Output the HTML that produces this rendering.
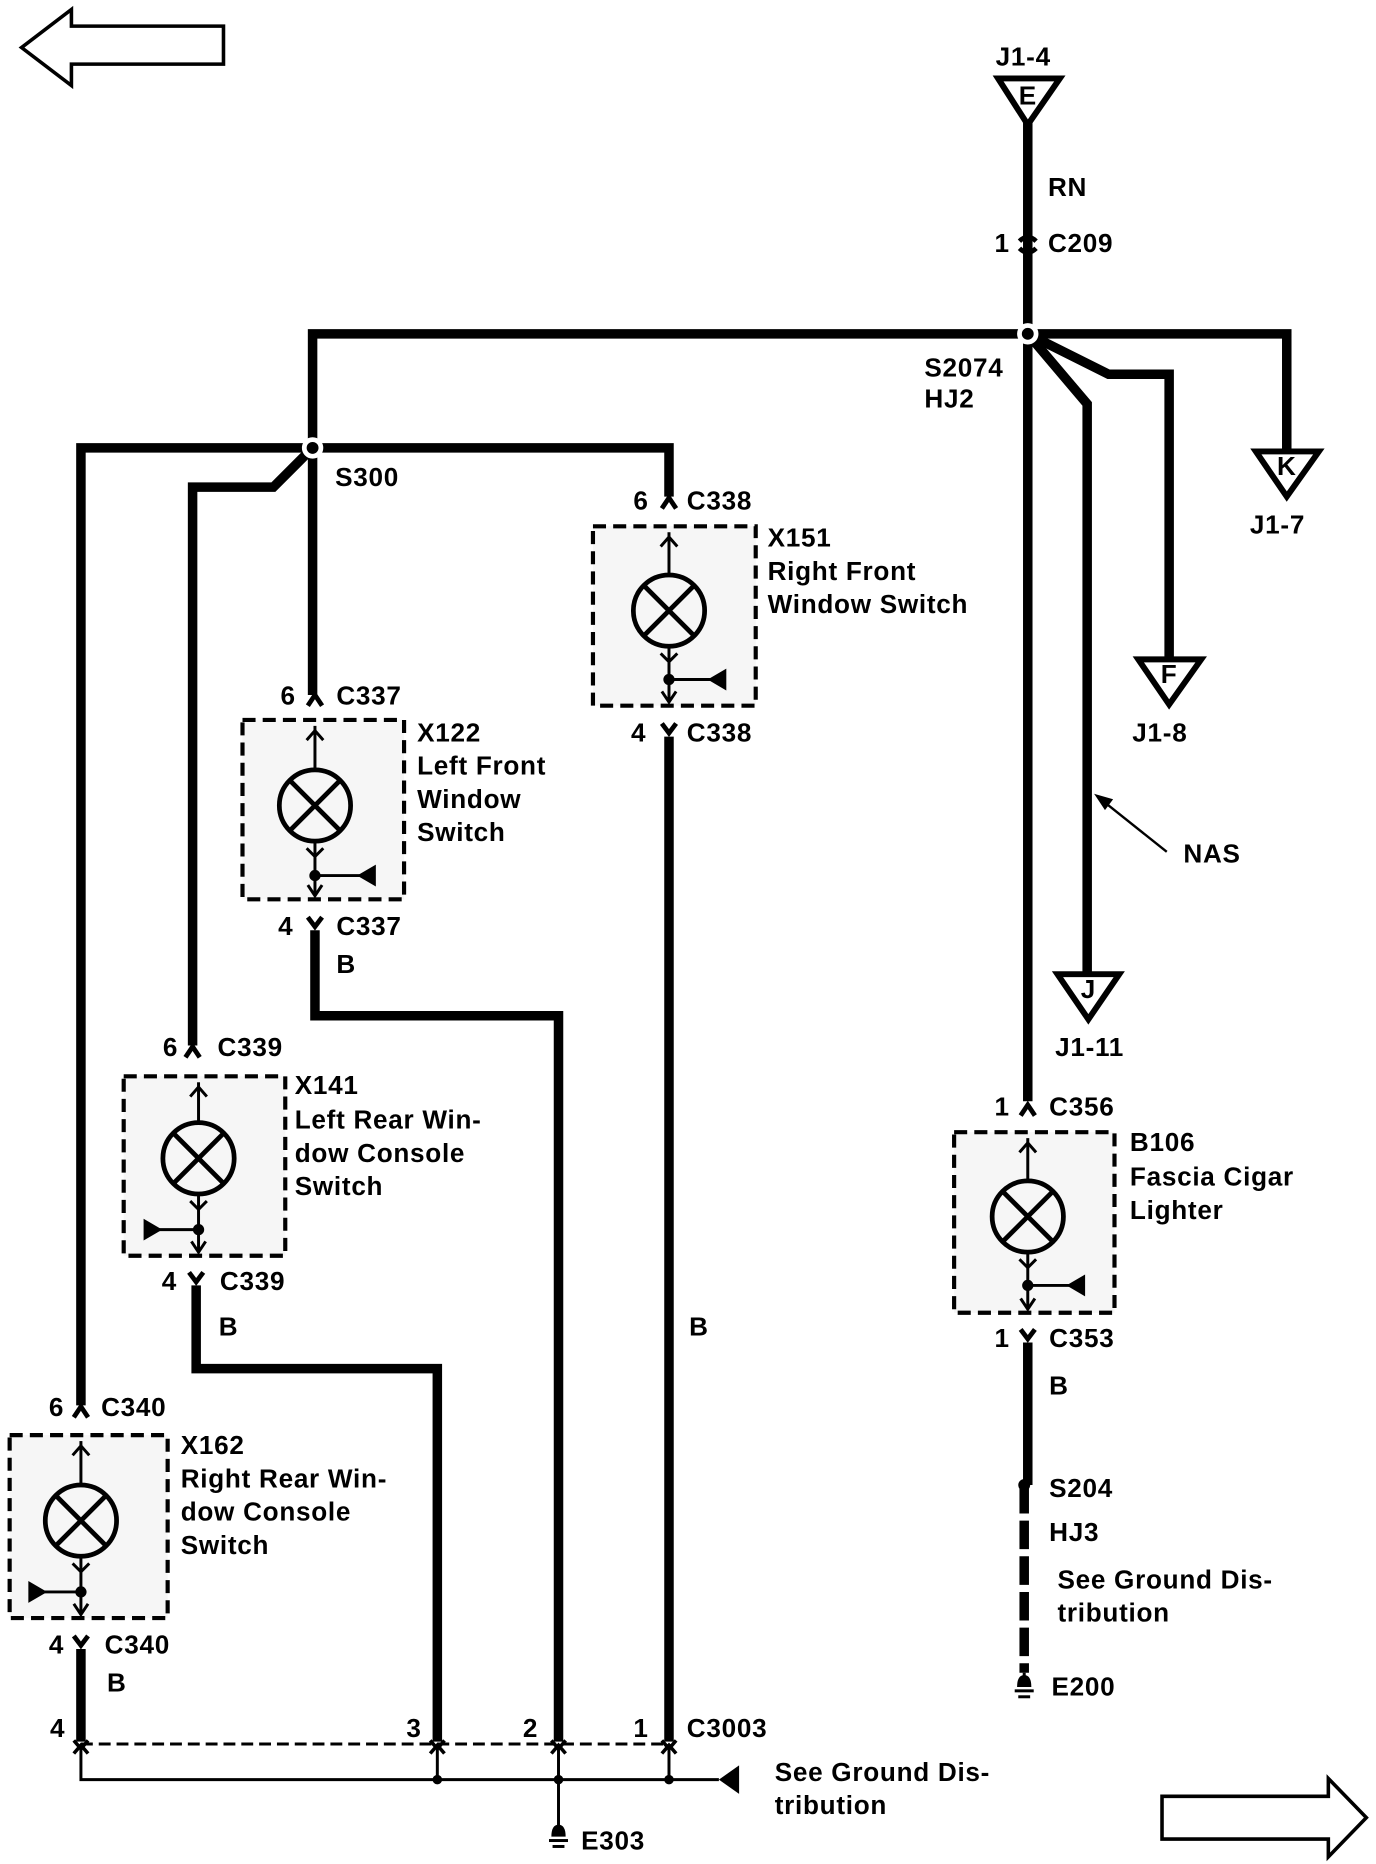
<!DOCTYPE html>
<html><head><meta charset="utf-8"><style>
html,body{margin:0;padding:0;background:#fff;}
svg{display:block}
text{font-family:"Liberation Sans",Arial,sans-serif;font-weight:bold;font-size:22px;letter-spacing:0.6px;fill:#000}
</style></head><body>
<svg width="1376" height="1864" viewBox="0 0 1158 1569" xmlns="http://www.w3.org/2000/svg">
<g fill="none" stroke="#000" stroke-linejoin="miter">
<polygon points="18,40 60,8 60,22 188,22 188,54 60,54 60,72" stroke-width="3"/>
<polygon points="1150,1530 1118,1497 1118,1512 978,1512 978,1548 1118,1548 1118,1563" stroke-width="3"/>
<g stroke-width="8">
<line x1="865" y1="100" x2="865" y2="927"/>
<polyline points="263,585 263,281 1083,281 1083,380"/>
<polyline points="865,281 933,315 984,315 984,555"/>
<polyline points="865,281 915,340 915,820"/>
<polyline points="68,1183 68,377 563,377 563,418"/>
<polyline points="263,377 230,410 162,410 162,880"/>
<line x1="563" y1="620" x2="563" y2="1466"/>
<polyline points="265,783 265,855 470,855 470,1466"/>
<polyline points="165,1082 165,1152 368,1152 368,1466"/>
<line x1="68" y1="1388" x2="68" y2="1466"/>
<line x1="865" y1="1130" x2="865" y2="1250"/>
<line x1="862" y1="1250" x2="862" y2="1408" stroke-dasharray="24,6"/>
</g>
<g stroke-width="5" fill="#fff">
<polygon points="840,66 892,66 865,105"/>
<polygon points="1057,380 1110,380 1083,418"/>
<polygon points="958,555 1011,555 984,593"/>
<polygon points="890,820 942,820 916,858"/>
</g>
<circle cx="865" cy="281" r="7" fill="#000" stroke="#fff" stroke-width="4"/>
<circle cx="263" cy="377" r="7" fill="#000" stroke="#fff" stroke-width="4"/>
<circle cx="862" cy="1250" r="5" fill="#000" stroke="none"/>
<path d="M858,203 Q865,196 872,203 M858,209 Q865,216 872,209" stroke-width="4"/>
<line x1="982" y1="717" x2="928" y2="674" stroke-width="2"/>
<polygon points="922,669 936,673 930,681" fill="#000" stroke-width="1"/>
<g stroke-width="4">
<polyline points="557,428 563,419 569,428"/>
<polyline points="259,594 265,585 271,594"/>
<polyline points="156,890 162,881 168,890"/>
<polyline points="62,1193 68,1184 74,1193"/>
<polyline points="859,939 865,930 871,939"/>
<polyline points="557,609 563,617 569,609"/>
<polyline points="259,772 265,780 271,772"/>
<polyline points="159,1071 165,1079 171,1071"/>
<polyline points="62,1377 68,1385 74,1377"/>
<polyline points="859,1119 865,1127 871,1119"/>
</g>
<g stroke-width="3.5" stroke-dasharray="11,6" fill="#f6f6f6">
<rect x="499" y="443" width="137" height="151"/>
<rect x="204" y="606" width="136" height="151"/>
<rect x="104" y="906" width="136" height="151"/>
<rect x="8" y="1208" width="133" height="154"/>
<rect x="803" y="953" width="135" height="152"/>
</g>
</g>

<g fill="none" stroke="#000" stroke-width="2.5">
<line x1="563" y1="448" x2="563" y2="484"/><polyline points="556,460 563,452 570,460"/>
<circle cx="563" cy="514" r="30" stroke-width="4"/><path d="M542,493 L584,535 M584,493 L542,535" stroke-width="4"/>
<line x1="563" y1="544" x2="563" y2="591"/><polyline points="556,550 563,557 570,550"/><polyline points="557,582 563,591 569,582"/>
<line x1="563" y1="572" x2="602" y2="572"/><circle cx="563" cy="572" r="3.5" fill="#000"/><polygon points="598,572 610,565 610,579" fill="#000"/>
<line x1="265" y1="611" x2="265" y2="648"/><polyline points="258,623 265,615 272,623"/>
<circle cx="265" cy="678" r="30" stroke-width="4"/><path d="M244,657 L286,699 M286,657 L244,699" stroke-width="4"/>
<line x1="265" y1="708" x2="265" y2="754"/><polyline points="258,714 265,721 272,714"/><polyline points="259,745 265,754 271,745"/>
<line x1="265" y1="737" x2="307" y2="737"/><circle cx="265" cy="737" r="3.5" fill="#000"/><polygon points="303,737 315,730 315,744" fill="#000"/>
<line x1="167" y1="911" x2="167" y2="945"/><polyline points="160,923 167,915 174,923"/>
<circle cx="167" cy="975" r="30" stroke-width="4"/><path d="M146,954 L188,996 M188,954 L146,996" stroke-width="4"/>
<line x1="167" y1="1005" x2="167" y2="1054"/><polyline points="160,1011 167,1018 174,1011"/><polyline points="161,1045 167,1054 173,1045"/>
<line x1="167" y1="1035" x2="130" y2="1035"/><circle cx="167" cy="1035" r="3.5" fill="#000"/><polygon points="134,1035 122,1028 122,1042" fill="#000"/>
<line x1="68" y1="1213" x2="68" y2="1250"/><polyline points="61,1225 68,1217 75,1225"/>
<circle cx="68" cy="1280" r="30" stroke-width="4"/><path d="M47,1259 L89,1301 M89,1259 L47,1301" stroke-width="4"/>
<line x1="68" y1="1310" x2="68" y2="1359"/><polyline points="61,1316 68,1323 75,1316"/><polyline points="62,1350 68,1359 74,1350"/>
<line x1="68" y1="1340" x2="33" y2="1340"/><circle cx="68" cy="1340" r="3.5" fill="#000"/><polygon points="37,1340 25,1333 25,1347" fill="#000"/>
<line x1="865" y1="958" x2="865" y2="994"/><polyline points="858,970 865,962 872,970"/>
<circle cx="865" cy="1024" r="30" stroke-width="4"/><path d="M844,1003 L886,1045 M886,1003 L844,1045" stroke-width="4"/>
<line x1="865" y1="1054" x2="865" y2="1102"/><polyline points="858,1060 865,1067 872,1060"/><polyline points="859,1093 865,1102 871,1093"/>
<line x1="865" y1="1082" x2="904" y2="1082"/><circle cx="865" cy="1082" r="3.5" fill="#000"/><polygon points="900,1082 912,1075 912,1089" fill="#000"/>
</g>

<g fill="none" stroke="#000">
<line x1="68" y1="1468" x2="563" y2="1468" stroke-width="2.5" stroke-dasharray="10,5"/>
<g stroke-width="2.5">
<polyline points="68,1468 68,1498 605,1498"/>
<line x1="368" y1="1468" x2="368" y2="1498"/>
<line x1="470" y1="1468" x2="470" y2="1540"/>
<line x1="563" y1="1468" x2="563" y2="1498"/>
<line x1="862" y1="1408" x2="862" y2="1414"/>
</g>
<g stroke-width="3">
<polyline points="62,1465 68,1472 74,1465"/><polyline points="62,1476 68,1469 74,1476"/>
<polyline points="362,1465 368,1472 374,1465"/><polyline points="362,1476 368,1469 374,1476"/>
<polyline points="464,1465 470,1472 476,1465"/><polyline points="464,1476 470,1469 476,1476"/>
<polyline points="557,1465 563,1472 569,1465"/><polyline points="557,1476 563,1469 569,1476"/>
</g>
</g>
<g fill="#000">
<circle cx="368" cy="1498" r="4"/><circle cx="470" cy="1498" r="4"/><circle cx="563" cy="1498" r="4"/>
<polygon points="605,1498 622,1486 622,1510"/>
<path d="M464,1546 Q464,1536 470,1536 Q476,1536 476,1546 Z"/><rect x="462" y="1548" width="16" height="2.5"/><rect x="465" y="1553" width="10" height="2.5"/>
<path d="M856,1420 Q856,1410 862,1410 Q868,1410 868,1420 Z"/><rect x="854" y="1422" width="16" height="2.5"/><rect x="857" y="1427" width="10" height="2.5"/>
</g>

<text x="838" y="55">J1-4</text>
<text x="865" y="88" font-size="14" letter-spacing="0" text-anchor="middle">E</text>
<text x="1083" y="400" font-size="14" letter-spacing="0" text-anchor="middle">K</text>
<text x="984" y="575" font-size="14" letter-spacing="0" text-anchor="middle">F</text>
<text x="916" y="840" font-size="14" letter-spacing="0" text-anchor="middle">J</text>
<text x="882" y="165">RN</text>
<text x="837" y="212">1</text><text x="882" y="212">C209</text>
<text x="778" y="317">S2074</text><text x="778" y="343">HJ2</text>
<text x="1052" y="449">J1-7</text>
<text x="953" y="624">J1-8</text>
<text x="888" y="889">J1-11</text>
<text x="996" y="726">NAS</text>
<text x="282" y="409">S300</text>
<text x="533" y="429">6</text><text x="578" y="429">C338</text>
<text x="646" y="460">X151</text><text x="646" y="488">Right Front</text><text x="646" y="516">Window Switch</text>
<text x="531" y="624">4</text><text x="578" y="624">C338</text>
<text x="236" y="593">6</text><text x="283" y="593">C337</text>
<text x="351" y="624">X122</text><text x="351" y="652">Left Front</text><text x="351" y="680">Window</text><text x="351" y="708">Switch</text>
<text x="234" y="787">4</text><text x="283" y="787">C337</text>
<text x="283" y="819">B</text>
<text x="137" y="889">6</text><text x="183" y="889">C339</text>
<text x="248" y="921">X141</text><text x="248" y="950">Left Rear Win-</text><text x="248" y="978">dow Console</text><text x="248" y="1006">Switch</text>
<text x="136" y="1086">4</text><text x="185" y="1086">C339</text>
<text x="184" y="1124">B</text>
<text x="580" y="1124">B</text>
<text x="41" y="1192">6</text><text x="85" y="1192">C340</text>
<text x="152" y="1224">X162</text><text x="152" y="1252">Right Rear Win-</text><text x="152" y="1280">dow Console</text><text x="152" y="1308">Switch</text>
<text x="41" y="1392">4</text><text x="88" y="1392">C340</text>
<text x="90" y="1424">B</text>
<text x="837" y="939">1</text><text x="883" y="939">C356</text>
<text x="951" y="969">B106</text><text x="951" y="998">Fascia Cigar</text><text x="951" y="1026">Lighter</text>
<text x="837" y="1134">1</text><text x="883" y="1134">C353</text>
<text x="883" y="1174">B</text>
<text x="883" y="1260">S204</text><text x="883" y="1297">HJ3</text>
<text x="890" y="1337">See Ground Dis-</text><text x="890" y="1365">tribution</text>
<text x="885" y="1427">E200</text>
<text x="42" y="1462">4</text><text x="342" y="1462">3</text><text x="440" y="1462">2</text><text x="533" y="1462">1</text>
<text x="578" y="1462">C3003</text>
<text x="652" y="1499">See Ground Dis-</text><text x="652" y="1527">tribution</text>
<text x="489" y="1557">E303</text>
</svg>
</body></html>
